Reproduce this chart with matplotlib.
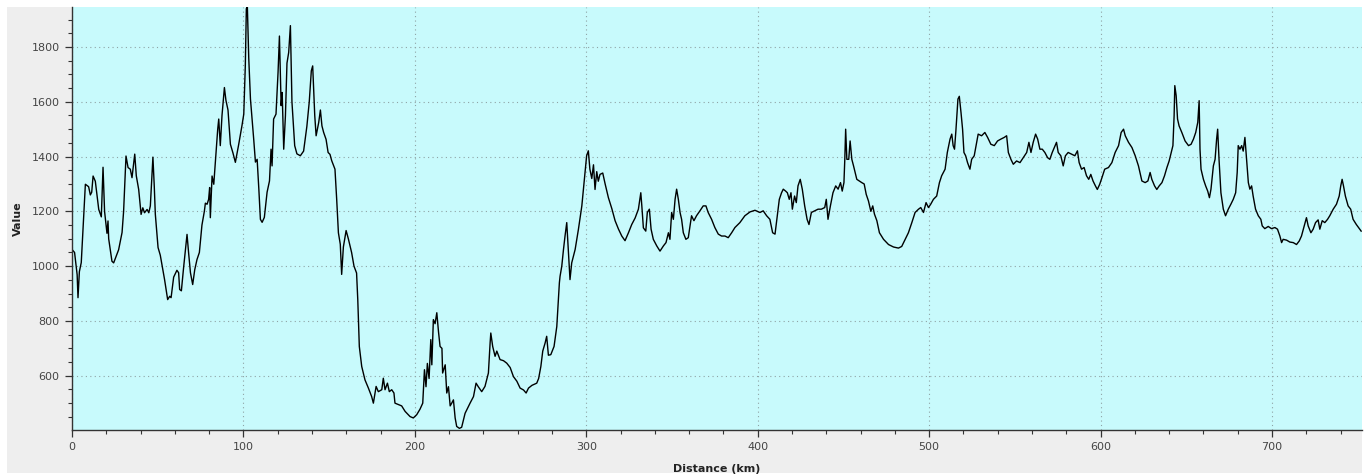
import matplotlib
matplotlib.use("Agg")
import matplotlib.pyplot as plt
from matplotlib.ticker import MultipleLocator
from matplotlib.patches import Rectangle

# ---- data ----
distance_km = [
    0, 1.5, 3, 3.5, 4.3, 5.4, 7.8, 9.7, 10.7, 11.5, 12.3, 13.6, 15.6, 17.1, 18.1, 19, 20.4, 21, 21.4,
    23.3, 24.3, 27.2, 29.2, 30.1, 31.5, 32.7, 34, 35, 36.6, 37.5, 38.9, 40.3, 41.3, 42.3, 43.8, 44.8,
    45.7, 47.2, 48, 48.6, 50.2, 51.5, 54, 55.8, 57, 57.8, 59.3, 61.2, 62.2, 62.8, 63.8, 65.1, 67.1,
    68, 69.1, 70.4, 71.6, 72.9, 74.3, 75.8, 77.2, 77.8, 78.8, 79.7, 80.3, 80.7, 81.7, 82.7, 83.6, 85,
    85.6, 86.5, 87.5, 88.9, 89.8, 91, 92.4, 93.9, 95.3, 97.2, 99.2, 100.2, 101.1, 101.7, 102.3, 103.1,
    104.1, 106, 107, 108, 109, 109.9, 110.9, 112.2, 113.8, 115.2, 116.1, 116.7, 117.6, 119, 120.2,
    121, 122, 122.6, 123.5, 124.5, 125.4, 126.4, 127.4, 128.3, 129.9, 131.2, 133.2, 135.1, 137,
    138.4, 139.6, 140.4, 141.6, 142.4, 143.9, 144.9, 145.8, 146.8, 148.2, 149.4, 150.5,
    151.5, 153.4, 154.4, 155.4, 156.5, 157.3, 158.3, 159.9, 161.2, 163.1, 164.5, 166, 166.7, 167.6,
    169, 170.9, 172.9, 174.8, 175.8, 177.4, 178.7, 180.7, 181.6, 182.6, 184, 185.1, 186.5, 187.8,
    188.4, 190.4, 192.3, 194.3, 197.2, 199.1, 201.1, 203, 204.6, 205.6, 206.5, 207.3, 208.3, 209.3,
    209.9, 210.8, 211.8, 212.8, 213.8, 214.7, 215.8, 216.2, 217.7, 218.6, 219.6, 220.6, 221.5, 222.5,
    223.5, 224.4, 226, 227.3, 229.3, 232.2, 234.2, 235.7, 237, 239, 240.9, 242.9, 243.9, 244.3,
    245.4, 246.8, 247.8, 249.7, 251.7, 253.6, 255.6, 257.5, 259.5, 261.4, 263.4, 264.9, 266.3, 268.3,
    271.1, 272.2, 273.5, 274.6, 276, 276.9, 277.9, 279.3, 281.2, 282.8, 283.7, 284.3, 284.7, 285.7,
    286.7, 287.6, 288.6, 289.6, 290.5, 291.5, 293.5, 295.4, 297.4, 298.3, 299.2, 300.2, 301.2, 302.1,
    303.2, 304.2, 305.1, 306.1, 307, 308, 309.6, 311, 312.9, 314.9, 316.8, 318.8, 320.7, 322.6,
    324.6, 326.5, 328.5, 330.4, 331.8, 332.4, 333.3, 334.7, 335.6, 336.8, 337.8, 339.1, 341.1, 343,
    345, 346.5, 347.9, 348.8, 349.8, 350.8, 351.8, 352.7, 353.7, 354.7, 355.6, 356.6, 358.1, 359.5,
    360.5, 361.4, 362.8, 364.3, 366.3, 368.2, 369.8, 371.1, 373.1, 375, 377, 378.9, 380.9, 382.8,
    384.8, 386.7, 389.6, 392.5, 395.5, 398.4, 401.3, 403.2, 405.2, 407.1, 408.7, 410.1, 411.4, 412.6,
    413.9, 414.9, 416.3, 417.3, 418.4, 419.4, 420.2, 421.5, 422.5, 423.5, 424.8, 426, 427.4, 428.8,
    429.9, 431.3, 433.2, 435.2, 437.1, 439.1, 440, 441, 442.4, 443.9, 445.5, 446.9, 448.3, 449.3,
    450.3, 450.8, 451.3, 452, 453.1,
    453.9, 454.9, 455.9, 457.8, 460.7, 462.1, 463.3, 464.6, 466, 467.1, 468.1, 469.5, 471, 473.4,
    476.3, 479.2, 482.1, 484, 486, 487.9, 489.9, 491.8, 493.8, 495.1, 496.7, 498.2, 499.6, 500.9,
    502.5, 504.4, 506, 507.3, 509.3, 510.6, 512.2, 513.2, 514, 514.8, 515.6, 516.8, 517.6, 518.6,
    519.5, 520.3, 521.3, 522.4, 523.8, 524.8, 526.3, 527.7, 528.6, 530.6, 532.5, 534.1, 536, 538,
    539.9, 541.9, 543.8, 545.2, 546.2, 547.7, 549.1, 551, 553, 554.9, 556.9, 558.2, 559.4, 560.7,
    562.1, 563.3, 564.6, 566, 567.5, 569.1, 570.4, 571.8, 573, 574.3, 575.3, 576.8, 578.2, 579.5,
    581.1, 583.4, 585, 586.5, 587.5, 588.9, 590.4, 591.8, 593.1, 594.3, 595.6, 597, 598.1, 599.5,
    600.8, 602.4, 604.6, 606.6, 608.5, 610.5, 612, 613.4, 614.4, 616.3, 618.3, 620.2, 622.1, 624.1,
    626, 627.6, 628.9, 629.9, 631.5, 632.8, 634.2, 635.8, 637.3, 638.7, 640, 641.2, 642.2, 642.9,
    643.3, 644.1, 644.9, 645.8, 647.4, 649.3, 651.3, 652.8, 654.2, 655.5, 656.7, 657.5, 658, 658.6,
    660, 661.3, 662.5, 663.5, 664.4, 665.8, 666.8, 667.7, 668.3, 669.1, 670.2, 671.6, 672.9, 674.5,
    676, 677.4, 678.8, 679.7, 680.3, 681.3, 682.3, 683.2, 684.2, 685.2, 686.2, 687.1, 688.1, 689,
    690.4, 692, 693.5, 694.3, 695.8, 697.8, 699.7, 701.7, 703.2, 704.6, 705.6, 706.5, 708.5, 710.4,
    712.4, 714.3, 715.9, 717.2, 718.8, 720.1, 721.1, 722.7, 724, 725.4, 726.9, 727.9, 729.3, 730.8,
    732.4, 733.7, 735.7, 737.6, 739.2, 740.1, 740.9, 741.7, 742.8, 744.4, 745.9, 747.3, 749.2, 752,
]

value = [
    1061, 1050, 969, 885, 980, 1013, 1299, 1290, 1260, 1270, 1329, 1310, 1207, 1180, 1361, 1200, 1120, 1165, 1100,
    1018, 1012, 1060, 1123, 1200, 1402, 1360, 1354, 1323, 1409, 1330, 1280, 1189, 1213, 1195, 1207, 1195,
    1220, 1398, 1290, 1190, 1068, 1040, 951, 878, 890, 885, 960, 985, 976, 915, 910, 995, 1116,
    1050, 976, 933, 987, 1024, 1050, 1150, 1200, 1230, 1226, 1244, 1287, 1177, 1329, 1299, 1378, 1500,
    1537, 1440, 1550, 1652, 1605, 1570, 1445, 1413, 1379, 1443, 1515, 1555, 1732, 1940, 1946, 1760,
    1610, 1463, 1380, 1390, 1280, 1171, 1160, 1178, 1270, 1311, 1427, 1366, 1537, 1555, 1708,
    1840, 1586, 1634, 1427, 1549, 1741, 1780, 1878, 1600, 1440, 1410, 1403, 1420, 1510,
    1600, 1713, 1731, 1550, 1476, 1524, 1570, 1512, 1488, 1463, 1415, 1408,
    1385, 1354, 1244, 1122, 1080, 970, 1070, 1130, 1100, 1050, 1000, 975, 878, 707,
    634, 585, 555, 524, 500, 561, 542, 549, 591, 549, 573, 542, 549, 537,
    500, 495, 490, 470, 451, 446, 458, 478, 500, 622, 560, 645, 590, 732,
    640, 805, 790, 830, 760, 707, 700, 610, 640, 537, 560, 490, 500, 512,
    446, 415, 408, 412, 463, 500, 524, 573, 560, 542, 561, 610, 720, 756,
    707, 671, 690, 659, 655, 646, 630, 597, 580, 555, 548, 537, 555, 565,
    573, 590, 634, 690, 720, 744, 675, 677, 707, 780, 878, 939, 963, 1000,
    1061, 1110, 1159, 1049, 951, 1012, 1061, 1134, 1220, 1280, 1342, 1403, 1421, 1354,
    1320, 1370, 1280, 1345, 1310, 1335, 1340, 1300, 1250, 1210, 1166, 1135, 1110, 1093,
    1122, 1152, 1176, 1208, 1268, 1220, 1140, 1128, 1196, 1208, 1135, 1098, 1074, 1055,
    1074, 1086, 1122, 1098, 1196, 1171, 1244, 1281, 1244, 1196, 1171, 1122, 1098, 1104,
    1147, 1184, 1166, 1184, 1202, 1220, 1220, 1196, 1171, 1141, 1117, 1110, 1110, 1104,
    1122, 1141, 1159, 1184, 1198, 1204, 1196, 1202, 1184, 1171, 1122, 1117, 1184, 1244,
    1268, 1281, 1274, 1268, 1244, 1268, 1208, 1256, 1232, 1293, 1317, 1281, 1220, 1171,
    1152, 1196, 1202, 1208, 1208, 1214, 1244, 1171, 1220, 1268, 1293, 1281, 1305, 1274,
    1305, 1390, 1500, 1390, 1390,
    1457, 1390, 1366, 1317, 1305, 1300, 1262, 1238, 1200, 1220, 1190, 1166, 1122, 1098,
    1079, 1070, 1066, 1072, 1098, 1122, 1159, 1196, 1208, 1214, 1196, 1232, 1214, 1226,
    1244, 1256, 1305, 1330, 1354, 1415, 1464, 1482, 1440, 1427, 1494, 1610, 1620, 1560,
    1500, 1415, 1403, 1378, 1354, 1390, 1403, 1452, 1482, 1476, 1488, 1470, 1445, 1440,
    1457, 1464, 1470, 1476, 1415, 1390, 1372, 1384, 1378, 1396, 1415, 1452, 1415, 1452,
    1482, 1464, 1427, 1427, 1415, 1396, 1390, 1415, 1433, 1452, 1415, 1403, 1366, 1403,
    1415, 1408, 1403, 1421, 1378, 1354, 1360, 1330, 1317, 1335, 1311, 1293, 1280, 1299,
    1323, 1354, 1360, 1378, 1415, 1440, 1488, 1500, 1476, 1452, 1433, 1403, 1366, 1311,
    1305, 1311, 1342, 1317, 1293, 1280, 1293, 1305, 1330, 1360, 1384, 1415, 1440, 1549,
    1659, 1622, 1537, 1512, 1488, 1457, 1440, 1445, 1464, 1488, 1525, 1604, 1427, 1354,
    1317, 1293, 1274, 1250, 1281, 1366, 1390, 1464, 1500, 1390, 1268, 1208, 1184, 1208,
    1226, 1244, 1268, 1342, 1440, 1427, 1440, 1420, 1470, 1390, 1305, 1281, 1293, 1256,
    1208, 1184, 1171, 1147, 1137, 1145, 1137, 1141, 1135, 1110, 1086, 1098, 1095, 1088,
    1086, 1079, 1092, 1110, 1147, 1177, 1147, 1122, 1135, 1159, 1169, 1135, 1166, 1159,
    1171, 1184, 1208, 1226, 1256, 1293, 1317, 1293, 1256, 1220, 1208, 1171, 1152, 1128,
]

x_major_ticks = [0, 100, 200, 300, 400, 500, 600, 700]
y_major_ticks = [600, 800, 1000, 1200, 1400, 1600, 1800]
x_limits = (0, 752.5)
y_limits = (402, 1946)
x_label = "Distance (km)"
y_label = "Value"

# ---- figure ----
W, H = 1370, 475
fig = plt.figure(figsize=(W / 100, H / 100), dpi=100, facecolor="white")
fig.patches.append(Rectangle((7 / W, 2 / H), (1362 - 7) / W, (473 - 7) / H,
                             transform=fig.transFigure, facecolor="#EEEEEE",
                             edgecolor="none", zorder=-10))

ax = fig.add_axes([72 / W, 1 - 430 / H, (1362 - 72) / W, (430 - 7) / H])
ax.set_facecolor("#C8FAFC")

ax.plot(distance_km, value, color="#000000", linewidth=1.0)

ax.set_xlim(*x_limits)
ax.set_ylim(*y_limits)
ax.set_xticks(x_major_ticks)
ax.set_yticks(y_major_ticks)
ax.xaxis.set_minor_locator(MultipleLocator(20))
ax.yaxis.set_minor_locator(MultipleLocator(50))

ax.grid(True, which="major", color="#8FA3A5", linestyle=(0, (1, 3)), linewidth=0.8)
for side in ("top", "right"):
    ax.spines[side].set_visible(False)
for side in ("left", "bottom"):
    ax.spines[side].set_color("#333333")
    ax.spines[side].set_linewidth(1.0)

ax.tick_params(which="major", direction="out", length=5, width=0.9, color="#333333",
               labelsize=8, labelcolor="#444444", pad=4)
ax.tick_params(which="minor", direction="out", length=3, width=0.8, color="#333333")

ax.set_xlabel(x_label, fontsize=8, fontweight="bold", color="#222222", labelpad=8)
ax.set_ylabel(y_label, fontsize=8, fontweight="bold", color="#222222", labelpad=6)

fig.savefig("out.png", dpi=100, facecolor=fig.get_facecolor())
